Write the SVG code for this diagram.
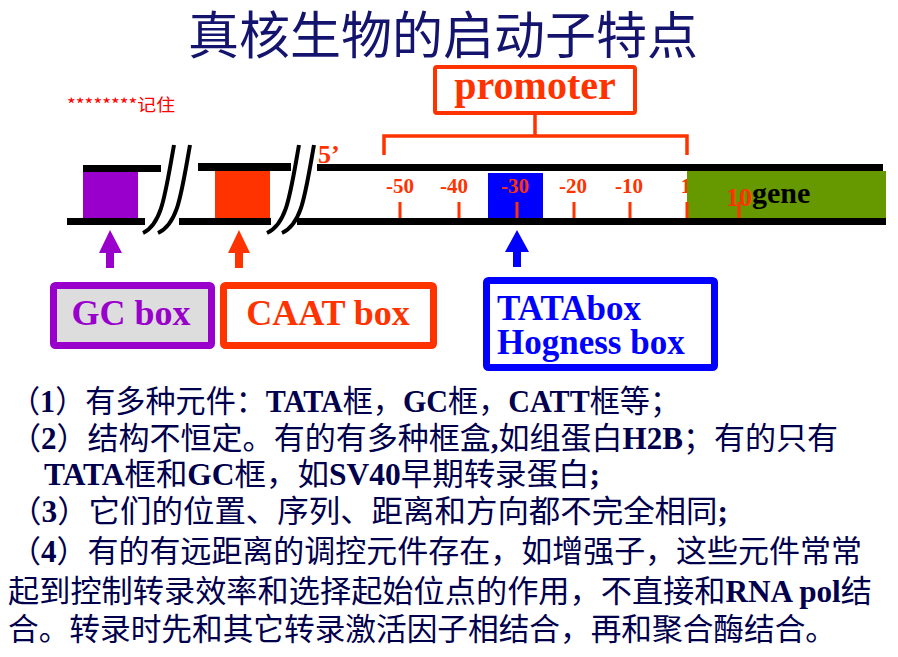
<svg xmlns="http://www.w3.org/2000/svg" width="898" height="657" viewBox="0 0 898 657">
<style>
.cjk{font-family:"Noto Sans CJK SC","Noto Sans CJK TC",sans-serif}
.ser{font-family:"Liberation Serif","Noto Sans CJK SC",serif}
.b{font-weight:bold}
.red{fill:#FF3300}
.strand{fill:#000}
.slash{fill:none;stroke:#000;stroke-width:4}
.lbl{font-family:"Liberation Serif",serif;font-weight:bold;font-size:21px;fill:#FF3300;text-anchor:middle}
.tick{fill:#FF3300}
.body{font-family:"Liberation Serif","Noto Sans CJK SC",serif;font-size:31px;fill:#00004d}
</style>
<rect width="898" height="657" fill="#fff"/>
<g id="title"><text class="cjk" x="188" y="54" font-size="51" fill="#14146e">真核生物的启动子特点</text></g>
<g id="note"><text class="cjk" x="67" y="111" font-size="17" fill="#FF0000" textLength="108" lengthAdjust="spacingAndGlyphs">********记住</text></g>
<g id="dna">
<rect class="strand" x="83" y="165" width="78" height="7"/>
<rect class="strand" x="198" y="163" width="93" height="8"/>
<rect class="strand" x="317" y="164" width="566" height="7"/>
<rect class="strand" x="67" y="218" width="78" height="7"/>
<rect class="strand" x="179" y="218" width="92" height="7"/>
<rect class="strand" x="297" y="218" width="589" height="7"/>
<rect x="83" y="172" width="55" height="46" fill="#9900CC"/>
<rect x="215" y="171" width="55" height="47" fill="#FF3300"/>
<rect x="488" y="173" width="55" height="45" fill="#0000FF"/>
<path class="slash" d="M174,145 C165,195 162,224 143,233"/>
<path class="slash" d="M190,145 C181,195 178,224 158,233"/>
<path class="slash" d="M299,145 C290,195 287,224 267,233"/>
<path class="slash" d="M314,145 C305,195 302,224 282,233"/>
<text class="ser b red" x="318" y="163" font-size="26">5’</text>
<text class="lbl" x="400" y="193">-50</text>
<text class="lbl" x="454" y="193">-40</text>
<text class="lbl" x="515" y="193">-30</text>
<text class="lbl" x="573" y="193">-20</text>
<text class="lbl" x="629" y="193">-10</text>
<text class="lbl" x="686" y="193">1</text>
<rect x="687" y="171" width="199" height="47" fill="#669900"/>
<text class="ser b" x="752" y="203" font-size="30" fill="#000">gene</text>
<text class="lbl" x="739" y="206" style="font-size:26px">10</text>
<rect class="tick" x="398.5" y="202" width="3" height="16"/>
<rect class="tick" x="457.5" y="202" width="3" height="16"/>
<rect class="tick" x="515.5" y="202" width="3" height="16"/>
<rect class="tick" x="572.5" y="202" width="3" height="16"/>
<rect class="tick" x="628.5" y="202" width="3" height="16"/>
<rect class="tick" x="685.5" y="202" width="3" height="16"/>
<rect class="tick" x="737.5" y="202" width="3" height="16"/>
</g>
<g id="promoter">
<rect x="435" y="67" width="200" height="46" rx="2" fill="#fff" stroke="#FF3300" stroke-width="4"/>
<text class="ser b red" x="535" y="99" font-size="40" text-anchor="middle">promoter</text>
</g>
<g id="gc-box">
<rect x="53.5" y="285.5" width="158" height="60" rx="2" fill="#dddddd" stroke="#9900CC" stroke-width="7"/>
<text class="ser b" x="131" y="325" font-size="36" fill="#9900CC" text-anchor="middle">GC box</text>
</g>
<g id="caat-box">
<rect x="223.5" y="285.5" width="210" height="60" rx="2" fill="#fff" stroke="#FF3300" stroke-width="7"/>
<text class="ser b red" x="328" y="325" font-size="36" text-anchor="middle">CAAT box</text>
</g>
<g id="tata-box">
<rect x="486.5" y="280.5" width="228" height="87" rx="2" fill="#fff" stroke="#0000FF" stroke-width="7"/>
<text class="ser b" x="497" y="320" font-size="35" fill="#0000FF">TATAbox</text>
<text class="ser b" x="497" y="354" font-size="35" fill="#0000FF">Hogness box</text>
</g>
<g id="connectors">
<path d="M384,155 V136 H687 V155 M535,115 V136" fill="none" stroke="#FF3300" stroke-width="3.5"/>
<polygon points="110,230 99,253 106,253 106,268 114,268 114,253 122,253" fill="#9900CC"/>
<polygon points="239,230 228,253 235,253 235,268 243,268 243,253 250,253" fill="#FF3300"/>
<polygon points="517,230 505,252 513,252 513,267 521,267 521,252 529,252" fill="#0000FF"/>
</g>
<g id="text">
<text class="body" x="10" y="412" textLength="670" lengthAdjust="spacingAndGlyphs">（<tspan class="b">1</tspan>）有多种元件：<tspan class="b">TATA</tspan>框，<tspan class="b">GC</tspan>框，<tspan class="b">CATT</tspan>框等；</text>
<text class="body" x="10" y="449" textLength="828" lengthAdjust="spacingAndGlyphs">（<tspan class="b">2</tspan>）结构不恒定。有的有多种框盒<tspan class="b">,</tspan>如组蛋白<tspan class="b">H2B</tspan>；有的只有</text>
<text class="body" x="44" y="485" textLength="556" lengthAdjust="spacingAndGlyphs"><tspan class="b">TATA</tspan>框和<tspan class="b">GC</tspan>框，如<tspan class="b">SV40</tspan>早期转录蛋白<tspan class="b">;</tspan></text>
<text class="body" x="10" y="522" textLength="718" lengthAdjust="spacingAndGlyphs">（<tspan class="b">3</tspan>）它们的位置、序列、距离和方向都不完全相同<tspan class="b">;</tspan></text>
<text class="body" x="10" y="562" textLength="852" lengthAdjust="spacingAndGlyphs">（<tspan class="b">4</tspan>）有的有远距离的调控元件存在，如增强子，这些元件常常</text>
<text class="body" x="8" y="602" textLength="864" lengthAdjust="spacingAndGlyphs">起到控制转录效率和选择起始位点的作用，不直接和<tspan class="b">RNA pol</tspan>结</text>
<text class="body" x="8" y="640" textLength="828" lengthAdjust="spacingAndGlyphs">合。转录时先和其它转录激活因子相结合，再和聚合酶结合。</text>
</g>
</svg>
